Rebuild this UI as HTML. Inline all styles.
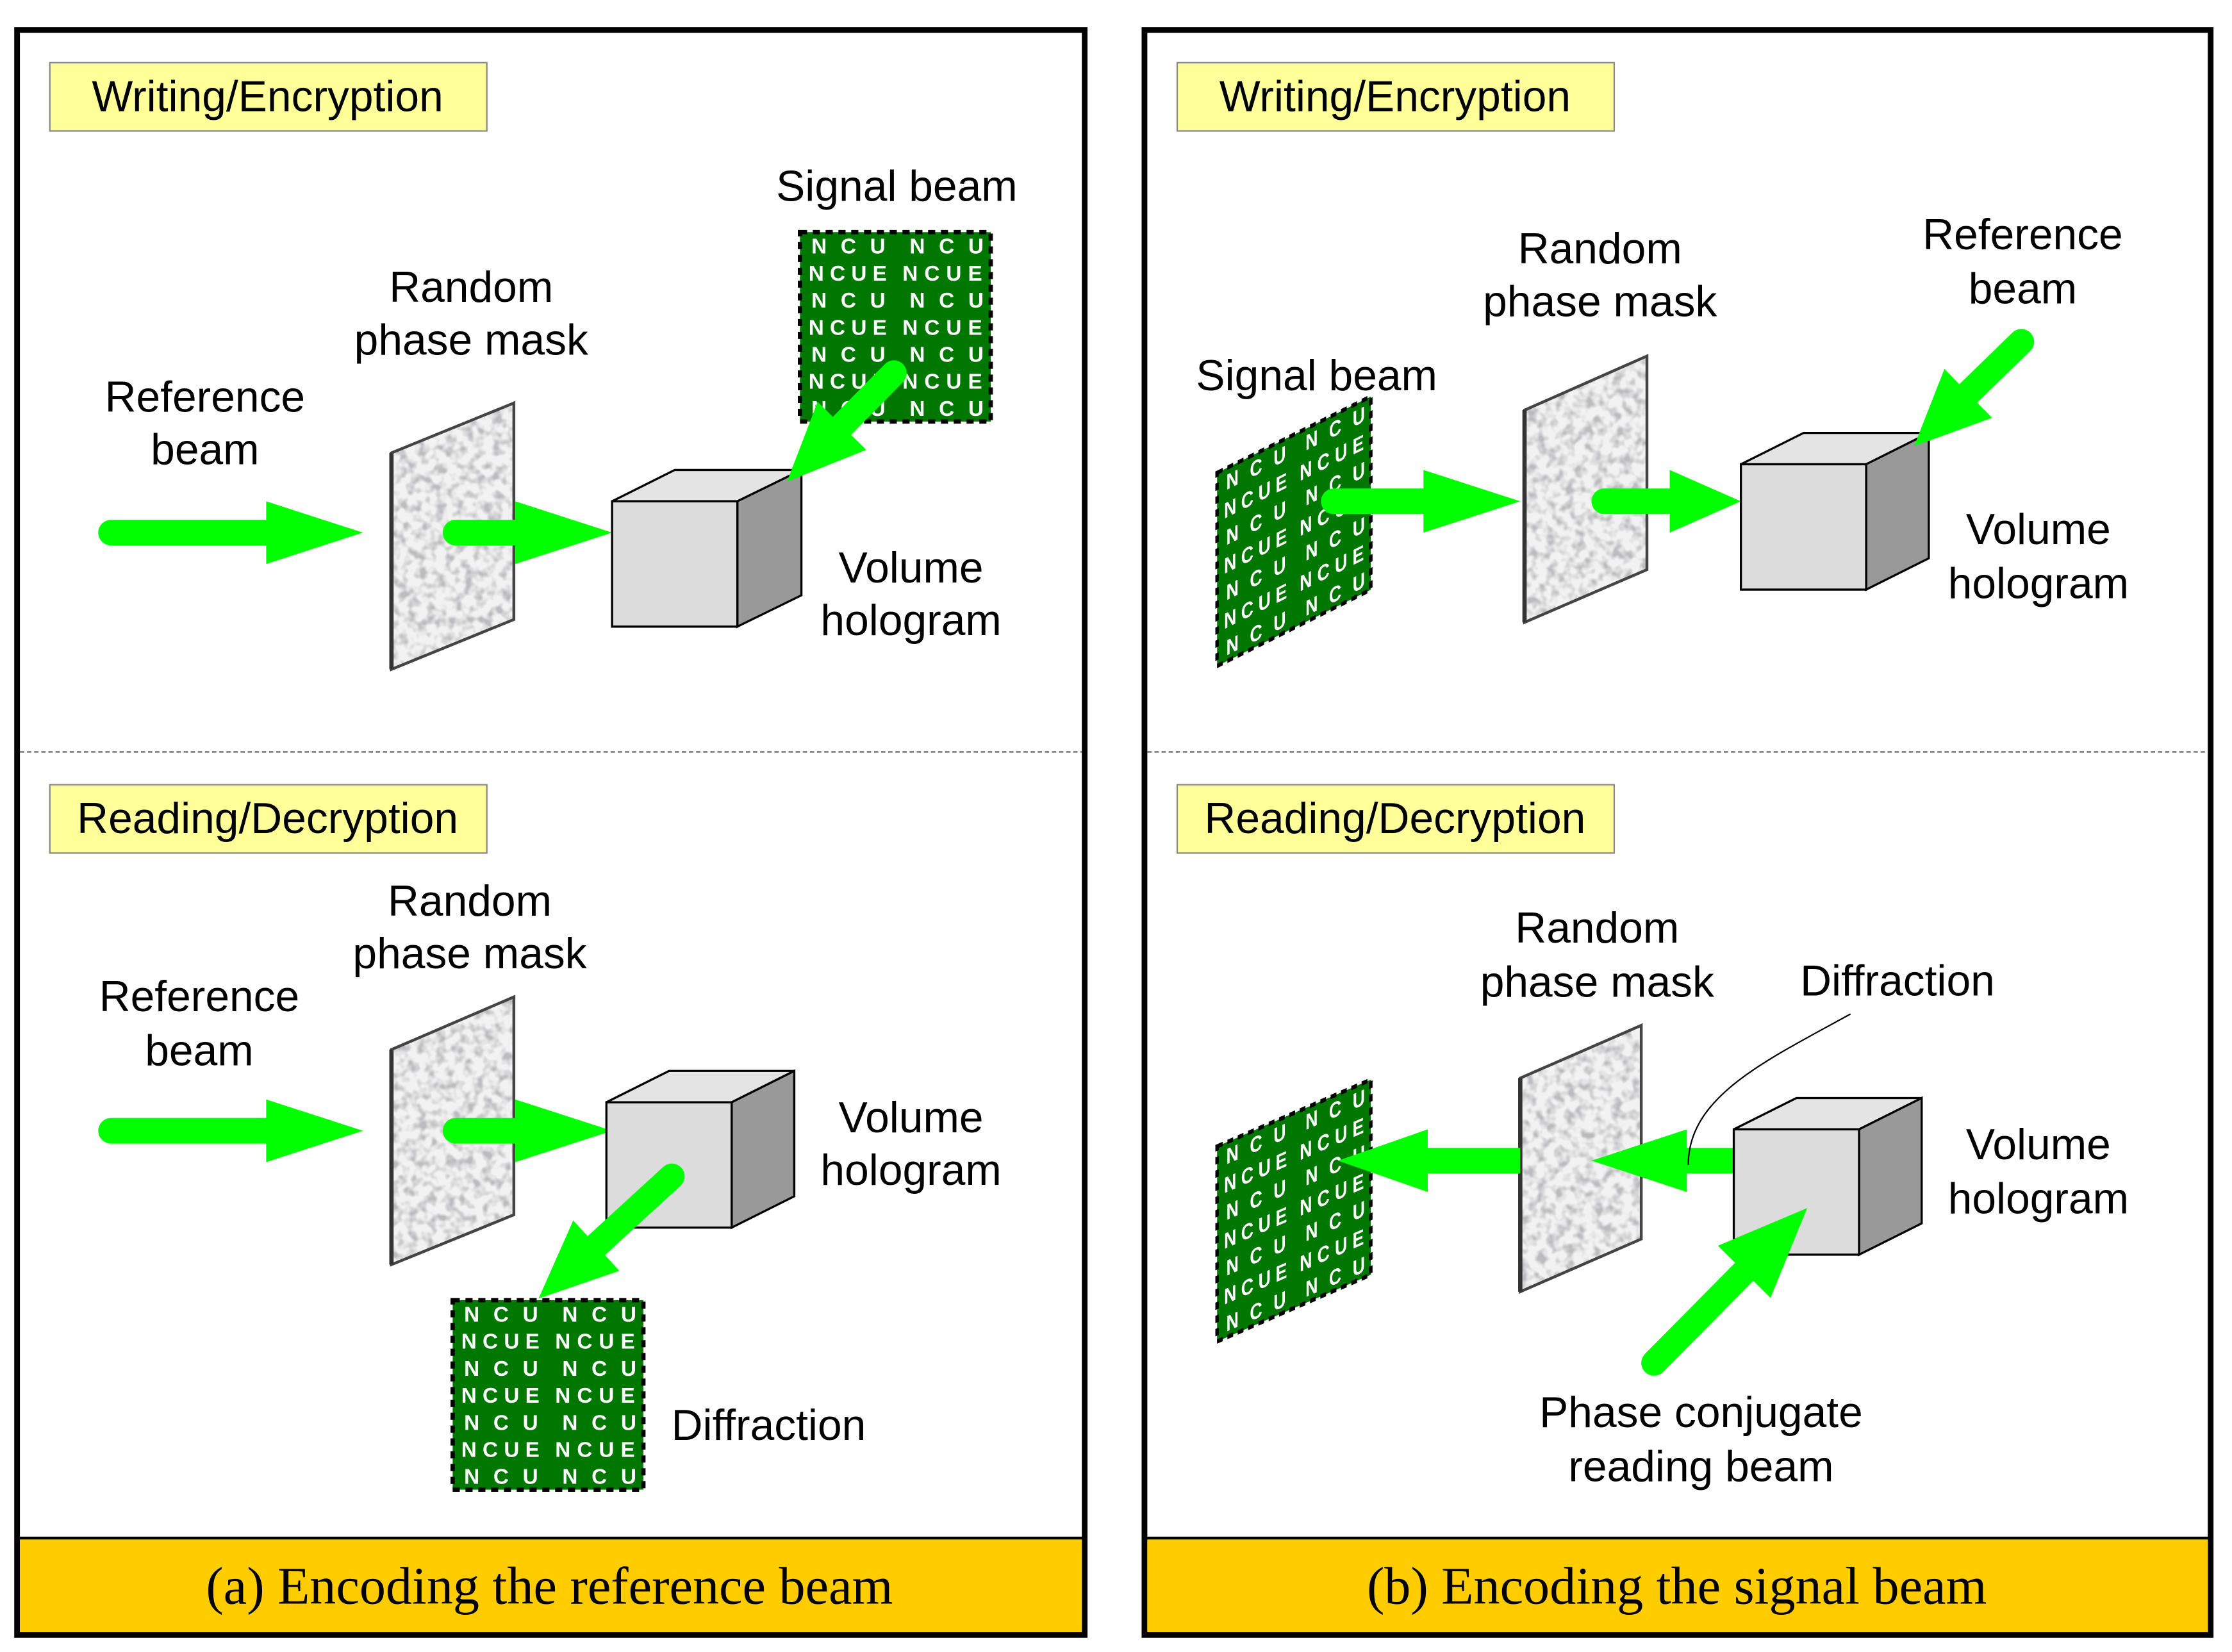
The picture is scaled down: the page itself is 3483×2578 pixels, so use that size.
<!DOCTYPE html>
<html><head><meta charset="utf-8"><style>
html,body{margin:0;padding:0;background:#fff}
svg{display:block}
text{font-family:"Liberation Sans",Arial,sans-serif;font-size:30.5px;fill:#000}
.ser{font-family:"Liberation Serif","Times New Roman",serif;font-size:37px}
.pt{font-family:"Liberation Sans",Arial,sans-serif;font-weight:bold;font-size:15px;fill:#fff}
</style></head><body>
<svg width="3483" height="2578" viewBox="0 0 1568 1160" preserveAspectRatio="none" xmlns="http://www.w3.org/2000/svg">
<defs>
<filter id="spk" x="0" y="0" width="1" height="1">
<feTurbulence type="fractalNoise" baseFrequency="0.15" numOctaves="2" seed="3" result="n"/>
<feColorMatrix in="n" type="matrix" values="0 0 0 0 0.5  0 0 0 0 0.5  0 0 0 0 0.52  0 0 0 -3 1.75" result="m"/>
<feComposite in="m" in2="SourceGraphic" operator="in" result="c"/>
<feMerge><feMergeNode in="SourceGraphic"/><feMergeNode in="c"/></feMerge>
</filter>
<g id="pat">
<rect x="0" y="0" width="134" height="133" fill="#007700"/>
<text class="pt" x="8" y="15" textLength="52">NCU</text><text class="pt" x="77" y="15" textLength="52">NCU</text>
<text class="pt" x="6" y="34" textLength="55">NCUE</text><text class="pt" x="72" y="34" textLength="56">NCUE</text>
<text class="pt" x="8" y="53" textLength="52">NCU</text><text class="pt" x="77" y="53" textLength="52">NCU</text>
<text class="pt" x="6" y="72" textLength="55">NCUE</text><text class="pt" x="72" y="72" textLength="56">NCUE</text>
<text class="pt" x="8" y="91" textLength="52">NCU</text><text class="pt" x="77" y="91" textLength="52">NCU</text>
<text class="pt" x="6" y="110" textLength="55">NCUE</text><text class="pt" x="72" y="110" textLength="56">NCUE</text>
<text class="pt" x="8" y="129" textLength="52">NCU</text><text class="pt" x="77" y="129" textLength="52">NCU</text>
<rect x="0" y="0" width="134" height="133" fill="none" stroke="#000" stroke-width="3" stroke-dasharray="5,4"/>
</g>
</defs>

<rect x="12" y="21" width="750" height="1127" fill="#fff" stroke="#000" stroke-width="4"/>
<rect x="14" y="1081" width="746" height="65" fill="#FFCC00"/>
<line x1="12" y1="1080" x2="762" y2="1080" stroke="#000" stroke-width="2"/>
<line x1="14" y1="528" x2="760" y2="528" stroke="#555" stroke-width="1" stroke-dasharray="3,2"/>
<rect x="804" y="21" width="749" height="1127" fill="#fff" stroke="#000" stroke-width="4"/>
<rect x="806" y="1081" width="745" height="65" fill="#FFCC00"/>
<line x1="804" y1="1080" x2="1553" y2="1080" stroke="#000" stroke-width="2"/>
<line x1="806" y1="528" x2="1551" y2="528" stroke="#555" stroke-width="1" stroke-dasharray="3,2"/>
<text class="ser" x="386" y="1126" text-anchor="middle">(a) Encoding the reference beam</text>
<text class="ser" x="1178" y="1126" text-anchor="middle">(b) Encoding the signal beam</text>

<rect x="35" y="44" width="307" height="48" fill="#FFFF99" stroke="#888" stroke-width="1"/>
<text x="188" y="78" text-anchor="middle">Writing/Encryption</text>
<rect x="35" y="551" width="307" height="48" fill="#FFFF99" stroke="#888" stroke-width="1"/>
<text x="188" y="585" text-anchor="middle">Reading/Decryption</text>
<rect x="827" y="44" width="307" height="48" fill="#FFFF99" stroke="#888" stroke-width="1"/>
<text x="980" y="78" text-anchor="middle">Writing/Encryption</text>
<rect x="827" y="551" width="307" height="48" fill="#FFFF99" stroke="#888" stroke-width="1"/>
<text x="980" y="585" text-anchor="middle">Reading/Decryption</text>

<!-- Left top -->
<text x="630" y="141" text-anchor="middle">Signal beam</text>
<use href="#pat" x="562" y="163"/>
<text x="331" y="212" text-anchor="middle">Random</text>
<text x="331" y="249" text-anchor="middle">phase mask</text>
<text x="144" y="289" text-anchor="middle">Reference</text>
<text x="144" y="326" text-anchor="middle">beam</text>
<text x="640" y="409" text-anchor="middle">Volume</text>
<text x="640" y="446" text-anchor="middle">hologram</text>
<g fill="#00FF00">
<line x1="78" y1="374" x2="190" y2="374" stroke="#00FF00" stroke-width="18" stroke-linecap="round"/>
<polygon points="187,352 255,374 187,396"/>
</g>
<polygon points="275,318 361,283 361,435 275,470" fill="#f2f2f2" filter="url(#spk)"/>
<polygon points="275,318 361,283 361,435 275,470" fill="none" stroke="#444" stroke-width="2"/>
<line x1="275" y1="318" x2="275" y2="470" stroke="#333" stroke-width="3"/>
<g fill="#00FF00">
<line x1="320" y1="374" x2="365" y2="374" stroke="#00FF00" stroke-width="18" stroke-linecap="round"/>
<polygon points="362,352 430,374 362,396"/>
</g>
<g stroke="#000" stroke-width="1.5">
<polygon points="430,352 474,330 563,330 518,352" fill="#e4e4e4"/>
<polygon points="518,352 563,330 563,418 518,440" fill="#999"/>
<rect x="430" y="352" width="88" height="88" fill="#dcdcdc"/>
</g>
<g transform="translate(628,262) rotate(134.6)" fill="#00FF00">
<line x1="0" y1="0" x2="55" y2="0" stroke="#00FF00" stroke-width="18" stroke-linecap="round"/>
<polygon points="52,-24 107,0 52,24"/>
</g>

<!-- Left bottom -->
<text x="330" y="643" text-anchor="middle">Random</text>
<text x="330" y="680" text-anchor="middle">phase mask</text>
<text x="140" y="710" text-anchor="middle">Reference</text>
<text x="140" y="748" text-anchor="middle">beam</text>
<text x="640" y="795" text-anchor="middle">Volume</text>
<text x="640" y="832" text-anchor="middle">hologram</text>
<text x="540" y="1011" text-anchor="middle">Diffraction</text>
<g fill="#00FF00">
<line x1="78" y1="794" x2="190" y2="794" stroke="#00FF00" stroke-width="18" stroke-linecap="round"/>
<polygon points="187,772 255,794 187,816"/>
</g>
<polygon points="275,737 361,700 361,853 275,888" fill="#f2f2f2" filter="url(#spk)"/>
<polygon points="275,737 361,700 361,853 275,888" fill="none" stroke="#444" stroke-width="2"/>
<line x1="275" y1="737" x2="275" y2="888" stroke="#333" stroke-width="3"/>
<g fill="#00FF00">
<line x1="320" y1="794" x2="365" y2="794" stroke="#00FF00" stroke-width="18" stroke-linecap="round"/>
<polygon points="362,772 430,794 362,816"/>
</g>
<g stroke="#000" stroke-width="1.5">
<polygon points="426,774 470,752 558,752 514,774" fill="#e4e4e4"/>
<polygon points="514,774 558,752 558,840 514,862" fill="#999"/>
<rect x="426" y="774" width="88" height="88" fill="#dcdcdc"/>
</g>
<use href="#pat" x="318" y="913"/>
<g transform="translate(472,826) rotate(137.5)" fill="#00FF00">
<line x1="0" y1="0" x2="75" y2="0" stroke="#00FF00" stroke-width="18" stroke-linecap="round"/>
<polygon points="72,-24 127,0 72,24"/>
</g>

<!-- Right top -->
<text x="1124" y="185" text-anchor="middle">Random</text>
<text x="1124" y="222" text-anchor="middle">phase mask</text>
<text x="1421" y="175" text-anchor="middle">Reference</text>
<text x="1421" y="213" text-anchor="middle">beam</text>
<text x="925" y="274" text-anchor="middle">Signal beam</text>
<text x="1432" y="382" text-anchor="middle">Volume</text>
<text x="1432" y="420" text-anchor="middle">hologram</text>
<g transform="matrix(0.806,-0.40,0,1.02,855,332)"><use href="#pat"/></g>
<g fill="#00FF00">
<line x1="937" y1="352" x2="1003" y2="352" stroke="#00FF00" stroke-width="18" stroke-linecap="round"/>
<polygon points="1000,330 1068,352 1000,374"/>
</g>
<polygon points="1071,288 1157,250 1157,400 1071,437" fill="#f2f2f2" filter="url(#spk)"/>
<polygon points="1071,288 1157,250 1157,400 1071,437" fill="none" stroke="#444" stroke-width="2"/>
<line x1="1071" y1="288" x2="1071" y2="437" stroke="#333" stroke-width="3"/>
<g fill="#00FF00">
<line x1="1127" y1="352" x2="1178" y2="352" stroke="#00FF00" stroke-width="18" stroke-linecap="round"/>
<polygon points="1173,330 1223,352 1173,374"/>
</g>
<g stroke="#000" stroke-width="1.5">
<polygon points="1223,326 1267,304 1355,304 1311,326" fill="#e4e4e4"/>
<polygon points="1311,326 1355,304 1355,392 1311,414" fill="#999"/>
<rect x="1223" y="326" width="88" height="88" fill="#dcdcdc"/>
</g>
<g transform="translate(1420,240) rotate(135.8)" fill="#00FF00">
<line x1="0" y1="0" x2="55" y2="0" stroke="#00FF00" stroke-width="18" stroke-linecap="round"/>
<polygon points="52,-24 105,0 52,24"/>
</g>

<!-- Right bottom -->
<text x="1122" y="662" text-anchor="middle">Random</text>
<text x="1122" y="700" text-anchor="middle">phase mask</text>
<text x="1333" y="699" text-anchor="middle">Diffraction</text>
<text x="1432" y="814" text-anchor="middle">Volume</text>
<text x="1432" y="852" text-anchor="middle">hologram</text>
<text x="1195" y="1002" text-anchor="middle">Phase conjugate</text>
<text x="1195" y="1040" text-anchor="middle">reading beam</text>
<g transform="matrix(0.806,-0.35,0,1.03,855,805)"><use href="#pat"/></g>
<polygon points="1068,757 1153,720 1153,870 1068,907" fill="#f2f2f2" filter="url(#spk)"/>
<polygon points="1068,757 1153,720 1153,870 1068,907" fill="none" stroke="#444" stroke-width="2"/>
<line x1="1068" y1="757" x2="1068" y2="907" stroke="#333" stroke-width="3"/>
<g fill="#00FF00">
<rect x="1000" y="806" width="68" height="18"/>
<polygon points="1003,793 940,815 1003,837"/>
<rect x="1180" y="806" width="40" height="18"/>
<polygon points="1185,793 1118,815 1185,837"/>
</g>
<g stroke="#000" stroke-width="1.5">
<polygon points="1218,793 1262,771 1350,771 1306,793" fill="#e4e4e4"/>
<polygon points="1306,793 1350,771 1350,859 1306,881" fill="#999"/>
<rect x="1218" y="793" width="88" height="88" fill="#dcdcdc"/>
</g>
<path d="M1300,712 C1240,745 1186,770 1186,818" fill="none" stroke="#000" stroke-width="1"/>
<g transform="translate(1162,957) rotate(-45.3)" fill="#00FF00">
<line x1="0" y1="0" x2="95" y2="0" stroke="#00FF00" stroke-width="18" stroke-linecap="round"/>
<polygon points="90,-26 153,0 90,26"/>
</g>
</svg>
</body></html>
